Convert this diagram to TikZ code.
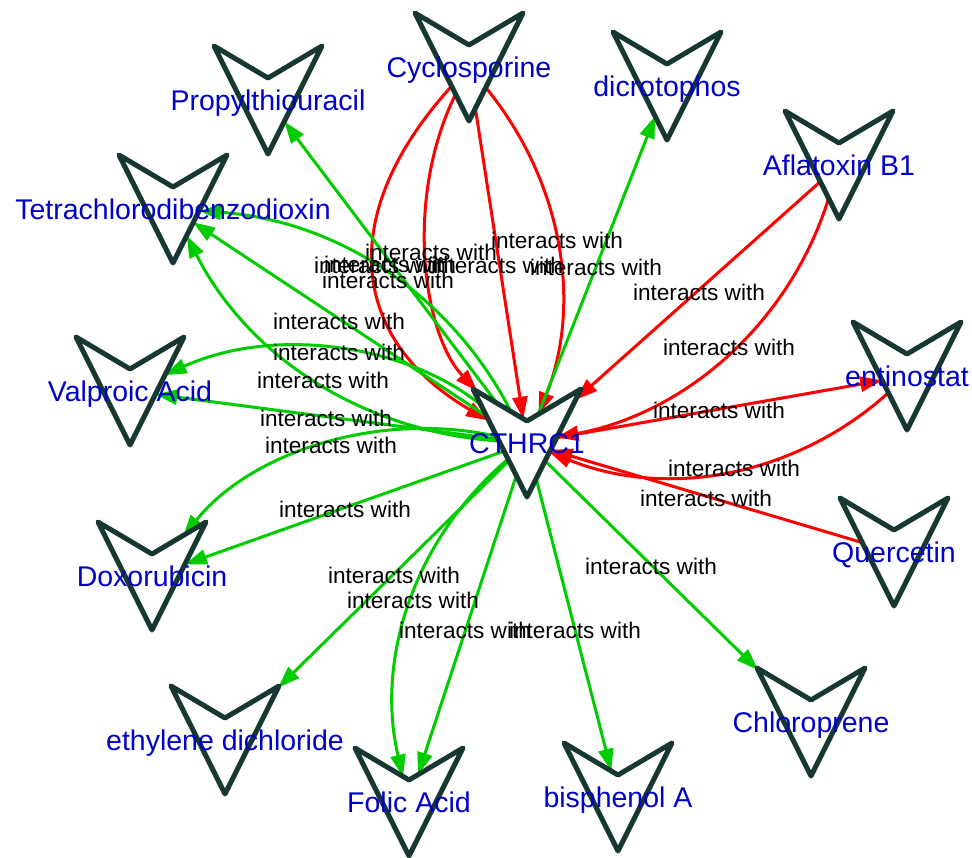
\documentclass[tikz,border=0pt]{standalone}
\usepackage{fontspec}
\setmainfont{Liberation Sans}
\usetikzlibrary{arrows.meta}

\definecolor{nodeline}{RGB}{23,55,50}
\definecolor{labelblue}{RGB}{0,0,204}
\definecolor{edgegreen}{RGB}{0,204,0}
\definecolor{edgered}{RGB}{255,0,0}

\pgfdeclarelayer{edges}
\pgfsetlayers{edges,main}

\tikzset{
  veeline/.style={draw=nodeline, line width=5pt, line join=round},
  chem/.style={text=labelblue, font=\fontsize{28.5}{30}\selectfont, inner sep=0pt, text height=20.5pt, text depth=0pt},
  ialbl/.style={font=\fontsize{22.6}{24}\selectfont, inner sep=0pt, text height=16.3pt, text depth=0pt},
  ia/.style={line width=3pt},
  grn/.style={ia, draw=edgegreen, -{Triangle[length=22pt,width=15pt]}},
  rd/.style={ia, draw=edgered, -{Triangle[length=22pt,width=15pt]}},
}

\begin{document}
\begin{tikzpicture}[x=1pt,y=-1pt]
\useasboundingbox (0,0) rectangle (972,858);

% chemicals and gene
\foreach \n/\t/\x/\y in {cthrc/CTHRC1/527/443, cyclo/Cyclosporine/469/67,
  propyl/Propylthiouracil/268/100, dicro/dicrotophos/667/86,
  afla/Aflatoxin B1/839/165, tcdd/Tetrachlorodibenzodioxin/173/209,
  entino/entinostat/907/376, querc/Quercetin/894/552,
  valpro/Valproic Acid/130/391, doxo/Doxorubicin/152/576,
  edc/ethylene dichloride/225/740, folic/Folic Acid/409/802,
  bpa/bisphenol A/618/797, chloro/Chloroprene/811/722}{
  \draw[veeline, shift={(\x,\y)}] (-54,-54) -- (0,-22) -- (54,-54) -- (0,54) -- cycle;
  \node[chem] (\n) at (\x,\y) {\t};
}

\begin{pgfonlayer}{edges}
% red: towards CTHRC1
\draw[rd, shorten <=26pt, shorten >=45pt] (cyclo.center) to[bend right=51, looseness=1.36] (cthrc.center);
\draw[rd, shorten <=30pt, shorten >=72pt] (cyclo.center) to[bend right=35] (cthrc.center);
\draw[rd, shorten <=42pt, shorten >=24.5pt] (cyclo.center) -- (cthrc.center);
\draw[rd, shorten <=26.5pt, shorten >=31pt] (cyclo.center) to[bend left=30.5] (cthrc.center);
\draw[rd, shorten <=25pt, shorten >=65pt] (afla.center) -- (cthrc.center);
\draw[rd, shorten <=35pt, shorten >=30pt] (afla.center) to[bend left=31] (cthrc.center);
\draw[rd, shorten <=30pt, shorten >=25pt] (cthrc.center) -- (entino.center);
\draw[rd, shorten <=25pt, shorten >=24pt] (entino.center) to[bend left=32] (cthrc.center);
\draw[rd, shorten <=33pt, shorten >=24.5pt] (querc.center) -- (cthrc.center);
% green: from CTHRC1
\draw[grn, shorten <=50pt, shorten >=27pt] (cthrc.center) -- (propyl.center);
\draw[grn, shorten <=31pt, shorten >=32.5pt] (cthrc.center) -- (dicro.center);
\draw[grn, shorten <=48pt, shorten >=24pt] (cthrc.center) -- (tcdd.center);
\draw[grn, shorten <=35pt, shorten >=26pt] (cthrc.center) to[bend right=29.5] (tcdd.center);
\draw[grn, shorten <=28pt, shorten >=30pt] (cthrc.center) to[bend left=29.5] (tcdd.center);
\draw[grn, shorten <=29pt, shorten >=25.6pt] (cthrc.center) -- (valpro.center);
\draw[grn, shorten <=59pt, shorten >=38pt] (cthrc.center) to[bend right=32] (valpro.center);
\draw[grn, shorten <=24pt, shorten >=35pt] (cthrc.center) -- (doxo.center);
\draw[grn, shorten <=31pt, shorten >=50pt] (cthrc.center) to[bend right=32] (doxo.center);
\draw[grn, shorten <=25pt, shorten >=74.5pt] (cthrc.center) -- (edc.center);
\draw[grn, shorten <=34pt, shorten >=29pt] (cthrc.center) -- (folic.center);
\draw[grn, shorten <=25pt, shorten >=26pt] (cthrc.center) to[bend right=31.5] (folic.center);
\draw[grn, shorten <=37pt, shorten >=27pt] (cthrc.center) -- (bpa.center);
\draw[grn, shorten <=25pt, shorten >=74pt] (cthrc.center) -- (chloro.center);
\end{pgfonlayer}

% edge labels
\node[ialbl] (cyc1) at (380,265) {interacts with};
\node[ialbl] (cyc2) at (431,252) {interacts with};
\node[ialbl] (cyc3) at (497,265) {interacts with};
\node[ialbl] (cyc4) at (557,240) {interacts with};
\node[ialbl] (pro1) at (390,264) {interacts with};
\node[ialbl] (dic1) at (596,267) {interacts with};
\node[ialbl] (tcd1) at (388,280) {interacts with};
\node[ialbl] (tcd2) at (339,321) {interacts with};
\node[ialbl] (val1) at (339,352) {interacts with};
\node[ialbl] (tcd3) at (323,380) {interacts with};
\node[ialbl] (val2) at (326,418) {interacts with};
\node[ialbl] (dox1) at (331,445) {interacts with};
\node[ialbl] (dox2) at (345,509) {interacts with};
\node[ialbl] (afl1) at (699,292) {interacts with};
\node[ialbl] (afl2) at (729,347) {interacts with};
\node[ialbl] (ent1) at (719,410) {interacts with};
\node[ialbl] (ent2) at (734,468) {interacts with};
\node[ialbl] (que1) at (706,498) {interacts with};
\node[ialbl] (chl1) at (651,566) {interacts with};
\node[ialbl] (edc1) at (394,575) {interacts with};
\node[ialbl] (fol1) at (413,600) {interacts with};
\node[ialbl] (fol2) at (465,630) {interacts with};
\node[ialbl] (bpa1) at (575,630) {interacts with};
\end{tikzpicture}
\end{document}
